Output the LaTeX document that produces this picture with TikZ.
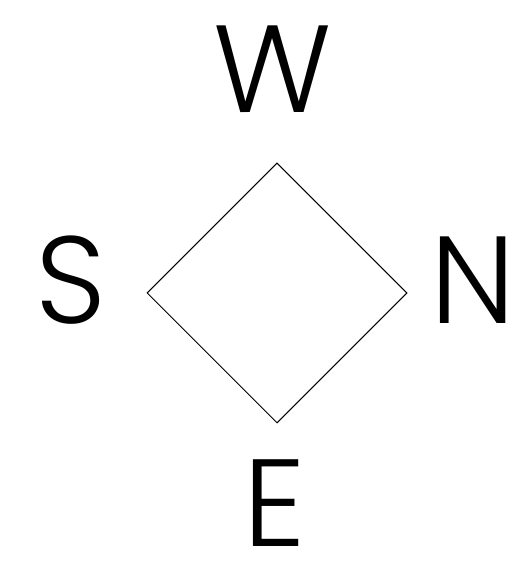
\documentclass[tikz,border=0pt]{standalone}
\usepackage{fontspec}
\setmainfont{Poppins Light}
\usetikzlibrary{positioning, shapes.geometric}
\tikzset{
  compassbox/.style={
    diamond, aspect=1, draw=black, line width=1pt,
    minimum width=260pt, minimum height=260pt, inner sep=0pt
  },
  compasslabel/.style={
    inner sep=0pt, font=\fontsize{124}{128}\selectfont
  }
}

\begin{document}
\begin{tikzpicture}[x=1pt, y=1pt]
  \useasboundingbox (0,0) rectangle (513,562);
  \node[compassbox] (dia) at (277,269) {};
  \node[compasslabel, above=50pt of dia, xshift=-4pt]  (w) {W};
  \node[compasslabel, left=47pt of dia, xshift=7pt, yshift=13pt] (s) {S};
  \node[compasslabel, right=28pt of dia, xshift=-5pt, yshift=13pt] (n) {N};
  \node[compasslabel, below=36pt of dia, xshift=-2pt]  (e) {E};
\end{tikzpicture}
\end{document}
